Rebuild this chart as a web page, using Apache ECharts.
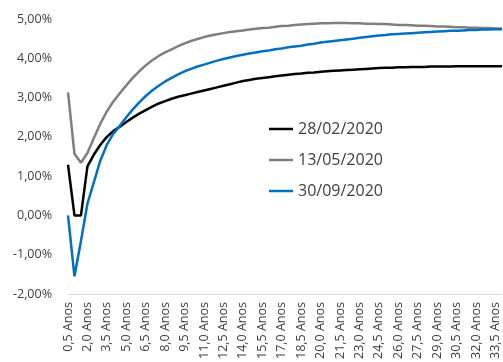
<!DOCTYPE html>
<html>
<head>
<meta charset="utf-8">
<script src="https://cdn.jsdelivr.net/npm/echarts@6/dist/echarts.min.js"></script>
<style>html,body{margin:0;padding:0;background:#fff;}#c{width:503px;height:362px;}</style>
</head>
<body>
<div id="c"></div>
<script>
const categories = [
'0,5 Anos','1,0 Anos','1,5 Anos','2,0 Anos','2,5 Anos','3,0 Anos','3,5 Anos','4,0 Anos','4,5 Anos','5,0 Anos',
'5,5 Anos','6,0 Anos','6,5 Anos','7,0 Anos','7,5 Anos','8,0 Anos','8,5 Anos','9,0 Anos','9,5 Anos','10,0 Anos',
'10,5 Anos','11,0 Anos','11,5 Anos','12,0 Anos','12,5 Anos','13,0 Anos','13,5 Anos','14,0 Anos','14,5 Anos','15,0 Anos',
'15,5 Anos','16,0 Anos','16,5 Anos','17,0 Anos','17,5 Anos','18,0 Anos','18,5 Anos','19,0 Anos','19,5 Anos','20,0 Anos',
'20,5 Anos','21,0 Anos','21,5 Anos','22,0 Anos','22,5 Anos','23,0 Anos','23,5 Anos','24,0 Anos','24,5 Anos','25,0 Anos',
'25,5 Anos','26,0 Anos','26,5 Anos','27,0 Anos','27,5 Anos','28,0 Anos','28,5 Anos','29,0 Anos','29,5 Anos','30,0 Anos',
'30,5 Anos','31,0 Anos','31,5 Anos','32,0 Anos','32,5 Anos','33,0 Anos','33,5 Anos','34,0 Anos'
];
const seriesNames = ['28/02/2020','13/05/2020','30/09/2020'];
const feb = [
1.29,0.00,0.00,1.25,1.55,1.80,2.00,2.15,2.26,2.38,
2.49,2.59,2.68,2.77,2.85,2.91,2.97,3.02,3.06,3.10,
3.14,3.18,3.22,3.26,3.30,3.34,3.38,3.42,3.45,3.48,
3.50,3.52,3.54,3.56,3.58,3.60,3.61,3.63,3.64,3.66,
3.67,3.68,3.69,3.70,3.71,3.72,3.73,3.74,3.75,3.76,
3.76,3.77,3.77,3.78,3.78,3.78,3.79,3.79,3.79,3.79,
3.80,3.80,3.80,3.80,3.80,3.80,3.80,3.80
];
const may = [
3.13,1.57,1.34,1.59,1.97,2.34,2.65,2.90,3.11,3.31,
3.50,3.67,3.82,3.95,4.06,4.15,4.23,4.31,4.38,4.44,
4.49,4.54,4.58,4.61,4.64,4.67,4.69,4.71,4.73,4.75,
4.77,4.78,4.80,4.82,4.83,4.85,4.86,4.87,4.88,4.89,
4.89,4.90,4.90,4.90,4.89,4.89,4.88,4.88,4.87,4.87,
4.86,4.85,4.85,4.84,4.83,4.83,4.82,4.81,4.81,4.80,
4.79,4.79,4.78,4.78,4.77,4.77,4.76,4.76
];
const sep = [
0.00,-1.55,-0.65,0.30,0.85,1.40,1.80,2.08,2.28,2.50,
2.70,2.88,3.04,3.18,3.30,3.41,3.50,3.59,3.67,3.73,
3.79,3.84,3.89,3.94,3.98,4.02,4.06,4.09,4.12,4.15,
4.18,4.20,4.23,4.25,4.28,4.30,4.32,4.35,4.37,4.40,
4.42,4.44,4.46,4.48,4.50,4.52,4.54,4.56,4.58,4.59,
4.61,4.62,4.63,4.64,4.65,4.66,4.67,4.68,4.69,4.70,
4.70,4.71,4.72,4.72,4.73,4.73,4.74,4.74
];
const colors = ['#000000','#7f7f7f','#0070c0'];

const chart = echarts.init(document.getElementById('c'), null, {renderer:'canvas'});
const font = 'Open Sans';
chart.setOption({
  animation:false,
  color: colors,
  grid:{left:68,right:1,top:19,bottom:67,containLabel:false},
  legend:{
    orient:'vertical', left:264, top:116, itemWidth:24, itemHeight:2.5, itemGap:15,
    icon:'rect',
    textStyle:{fontFamily:font,fontSize:16,color:'#404040'},
    data: seriesNames
  },
  xAxis:[{
    type:'category', data:categories, boundaryGap:false,
    axisLine:{show:false}, axisTick:{show:false}, splitLine:{show:false},
    axisLabel:{rotate:90, interval:2, margin:8, fontFamily:font, fontSize:12.5, color:'#404040'}
  },{
    type:'category', data:categories, boundaryGap:false, position:'bottom',
    axisLine:{show:true, onZero:true, lineStyle:{color:'#d9d9d9',width:1}},
    axisTick:{show:false}, axisLabel:{show:false}, splitLine:{show:false}
  }],
  yAxis:{
    type:'value', min:-2, max:5, interval:1,
    axisLine:{show:false}, axisTick:{show:false}, splitLine:{show:false},
    axisLabel:{margin:16, fontFamily:font, fontSize:12.5, color:'#404040',
      formatter:v=>v.toFixed(2).replace('.',',')+'%'}
  },
  series:[
    {name:seriesNames[0], type:'line', data:feb, symbol:'none', lineStyle:{width:2.5,color:colors[0]}, z:3},
    {name:seriesNames[1], type:'line', data:may, symbol:'none', lineStyle:{width:2.5,color:colors[1]}, z:3},
    {name:seriesNames[2], type:'line', data:sep, symbol:'none', lineStyle:{width:2.5,color:colors[2]}, z:3}
  ]
});
</script>
</body>
</html>
